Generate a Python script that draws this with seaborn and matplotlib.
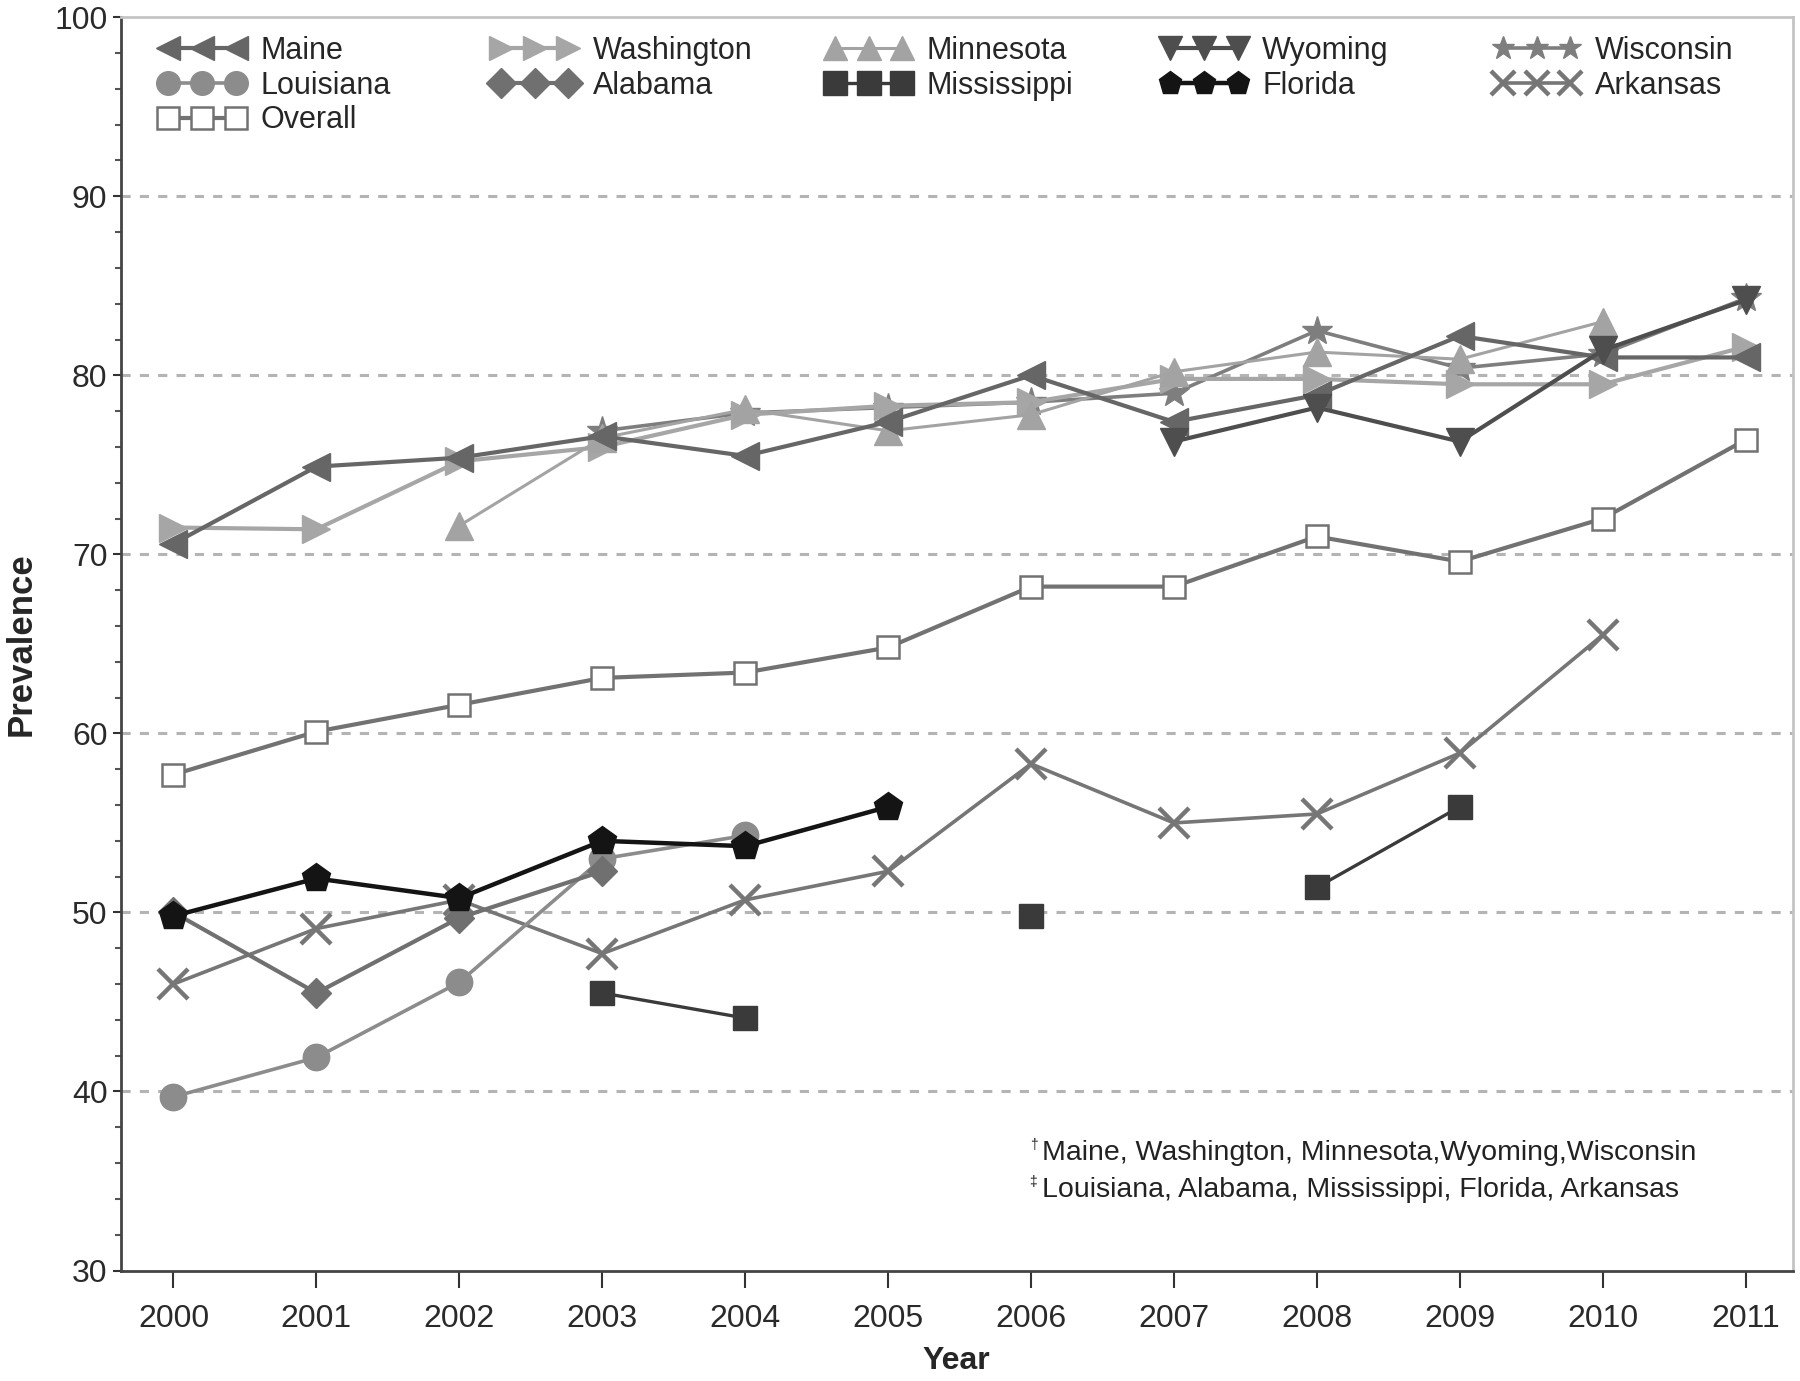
import numpy as np
import pandas as pd
import matplotlib
matplotlib.use("Agg")
import matplotlib.pyplot as plt
from matplotlib.lines import Line2D
from matplotlib.legend import Legend
from matplotlib.ticker import MultipleLocator
import seaborn as sns

years = list(range(2000, 2012))
nan = np.nan

maine       = [70.6, 74.9, 75.4, 76.6, 75.5, 77.4, 80.0, 77.4, 78.9, 82.2, 81.0, 81.0]
washington  = [71.5, 71.4, 75.2, 76.0, 77.8, 78.3, 78.5, 79.8, 79.8, 79.5, 79.5, 81.6]
minnesota   = [nan, nan, 71.6, 76.5, 78.1, 76.9, 77.8, 80.2, 81.3, 80.9, 83.0, nan]
wyoming     = [nan, nan, nan, nan, nan, nan, nan, 76.3, 78.2, 76.3, 81.4, 84.2]
wisconsin   = [nan, nan, nan, 76.9, 77.9, 78.2, 78.5, 79.0, 82.5, 80.4, 81.2, 84.3]
louisiana   = [39.7, 41.9, 46.1, 53.0, 54.3, nan, nan, nan, nan, nan, nan, nan]
alabama     = [50.0, 45.5, 49.7, 52.3, nan, nan, nan, nan, nan, nan, nan, nan]
mississippi = [nan, nan, nan, 45.5, 44.1, nan, 49.8, nan, 51.4, 55.9, nan, nan]
florida     = [49.8, 51.9, 50.8, 54.0, 53.7, 55.9, nan, nan, nan, nan, nan, nan]
arkansas    = [46.0, 49.1, 50.7, 47.7, 50.7, 52.3, 58.3, 55.0, 55.5, 58.9, 65.5, nan]
overall     = [57.7, 60.1, 61.6, 63.1, 63.4, 64.8, 68.2, 68.2, 71.0, 69.6, 72.0, 76.4]

# legend columns as laid out in the figure
legend_cols = [["Maine", "Louisiana", "Overall"],
               ["Washington", "Alabama"],
               ["Minnesota", "Mississippi"],
               ["Wyoming", "Florida"],
               ["Wisconsin", "Arkansas"]]
series_vals = {"Maine": maine, "Washington": washington, "Minnesota": minnesota,
               "Wyoming": wyoming, "Wisconsin": wisconsin, "Louisiana": louisiana,
               "Alabama": alabama, "Mississippi": mississippi, "Florida": florida,
               "Arkansas": arkansas, "Overall": overall}

footnote1 = "Maine, Washington, Minnesota,Wyoming,Wisconsin"
footnote2 = "Louisiana, Alabama, Mississippi, Florida, Arkansas"

# marker, colour, marker size, line width, face colour, edge width
styles = {
    "Maine":       ("<", "#666666", 20, 3.0, None, 1),
    "Washington":  (">", "#a6a6a6", 20, 3.0, None, 1),
    "Minnesota":   ("^", "#a3a3a3", 20, 2.2, None, 1),
    "Wyoming":     ("v", "#4e4e4e", 20, 3.0, None, 1),
    "Wisconsin":   ("*", "#7e7e7e", 22, 2.6, None, 1),
    "Louisiana":   ("o", "#8c8c8c", 19, 2.6, None, 1),
    "Alabama":     ("D", "#707070", 15, 3.0, None, 1),
    "Mississippi": ("s", "#3a3a3a", 17, 2.4, None, 1),
    "Florida":     ("p", "#141414", 21, 3.2, None, 1),
    "Arkansas":    ("x", "#767676", 22, 2.6, None, 3.2),
    "Overall":     ("s", "#727272", 16, 3.0, "white", 1.8),
}

sns.set_theme(style="white")
plt.rcParams["font.family"] = ["Liberation Sans", "DejaVu Sans"]

fig = plt.figure(figsize=(18, 13.81), dpi=100)
ax = fig.add_axes([0.067, 0.080, 0.929, 0.9075])

draw_order = ["Overall", "Arkansas", "Mississippi", "Louisiana", "Alabama", "Florida",
              "Wisconsin", "Washington", "Minnesota", "Maine", "Wyoming"]

for name in draw_order:
    mk, col, ms, lw, fc, mew = styles[name]
    df = pd.DataFrame({"year": years, "val": series_vals[name]})
    ok = df["val"].notna()
    seg = (~ok).cumsum()
    for _, part in df[ok].groupby(seg[ok]):
        sns.lineplot(data=part, x="year", y="val", ax=ax, color=col, linewidth=lw,
                     marker=mk, markersize=ms, markerfacecolor=fc if fc else col,
                     markeredgecolor=col, markeredgewidth=mew, estimator=None,
                     legend=False, zorder=3)

ax.set_xlim(1999.63, 2011.33)
ax.set_ylim(30, 100)
ax.set_xticks(years)
ax.set_xticklabels([str(y) for y in years])
ax.yaxis.set_major_locator(MultipleLocator(10))
ax.yaxis.set_minor_locator(MultipleLocator(2))
for v in range(40, 100, 10):
    ax.axhline(v, color="#b4b4b4", linestyle=(0, (3, 3)), linewidth=2.2, zorder=1)

ax.tick_params(axis="both", which="major", labelsize=23, colors="#333333",
               labelcolor="#2a2a2a", direction="out")
ax.tick_params(axis="x", length=12, width=1.5, pad=12, bottom=True)
ax.tick_params(axis="y", which="major", length=6, width=1.5, left=True)
ax.tick_params(axis="y", which="minor", length=4, width=1.5, left=True, color="#555555")

for s in ["left", "bottom"]:
    ax.spines[s].set_color("#444444")
    ax.spines[s].set_linewidth(2)
for s in ["top", "right"]:
    ax.spines[s].set_color("#c4c4c4")
    ax.spines[s].set_linewidth(2)

ax.set_xlabel("Year", fontsize=23, fontweight="bold", labelpad=9)
ax.set_ylabel("Prevalence", fontsize=25, fontweight="bold", labelpad=12)

col_x = [0.0103, 0.2093, 0.409, 0.6095, 0.8085]
for cx, names in zip(col_x, legend_cols):
    handles = []
    for name in names:
        mk, col, ms, lw, fc, mew = styles[name]
        handles.append(Line2D([], [], color=col, linewidth=lw, marker=mk,
                              markersize=min(ms, 17), markerfacecolor=fc if fc else col,
                              markeredgecolor=col, markeredgewidth=mew))
    leg = Legend(ax, handles, names, loc="upper left", bbox_to_anchor=(cx, 1.002),
                 frameon=False, numpoints=3, handlelength=2.8, borderaxespad=0.3,
                 handletextpad=0.5, labelspacing=0.15, prop={"size": 22})
    ax.add_artist(leg)

fig.text(0.572, 0.168, "\u2020", fontsize=10, color="#222222")
fig.text(0.579, 0.160, footnote1, fontsize=20.5, color="#222222")
fig.text(0.572, 0.141, "\u2021", fontsize=10, color="#222222")
fig.text(0.579, 0.133, footnote2, fontsize=20.5, color="#222222")

fig.savefig("out.png", dpi=100, facecolor="white")
